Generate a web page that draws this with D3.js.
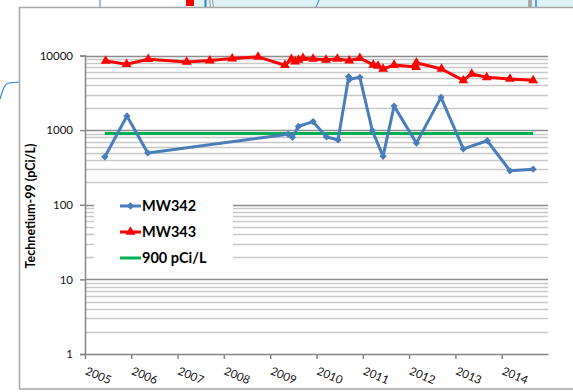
<!DOCTYPE html>
<html>
<head>
<meta charset="utf-8">
<script src="https://cdn.jsdelivr.net/npm/d3@7"></script>
<style>
  html, body { margin: 0; padding: 0; background: #fff; overflow: hidden; }
  svg { display: block; font-family: Lato, "Open Sans", sans-serif; }
</style>
</head>
<body>
<svg width="573" height="392"></svg>
<script>
// MW342 samples
const mw342Dates = ["2005-06-07", "2005-11-28", "2006-05-11", "2009-05-22", "2009-06-25",
  "2009-08-11", "2009-12-05", "2010-03-21", "2010-06-20", "2010-09-12", "2010-09-20",
  "2010-12-09", "2011-03-17", "2011-06-10", "2011-09-05", "2012-02-28", "2012-09-09",
  "2013-03-04", "2013-09-09", "2014-03-07", "2014-09-06"];
const mw342Values = [440, 1550, 495, 880, 800, 1120, 1300, 810, 740, 5200, 4800,
  5100, 990, 445, 2100, 670, 2750, 560, 720, 285, 300];

// MW343 samples
const mw343Dates = ["2005-06-13", "2005-11-25", "2006-05-15", "2007-03-14", "2007-09-12",
  "2008-03-07", "2008-09-27", "2009-04-27", "2009-06-17", "2009-07-16", "2009-08-12",
  "2009-09-17", "2009-12-05", "2010-03-17", "2010-06-14", "2010-09-16", "2010-12-09",
  "2011-03-25", "2011-05-01", "2011-06-10", "2011-09-05", "2012-02-26", "2012-02-28",
  "2012-09-13", "2013-03-04", "2013-05-09", "2013-09-05", "2014-03-07", "2014-09-06"];
const mw343Values = [8470, 7640, 8920, 8210, 8550, 9090, 9570, 7400, 8900, 8300, 8700,
  9200, 9000, 8750, 9000, 8550, 9200, 7500, 7250, 6600, 7450, 7000, 8000,
  6600, 4650, 5650, 5100, 4850, 4650];

// reference level
const refDates = ["2005-06-07", "2014-09-06"];
const refValue = 900;

const yTicks = [1, 10, 100, 1000, 10000];
const yearTicks = [2005, 2006, 2007, 2008, 2009, 2010, 2011, 2012, 2013, 2014];

const parse = d3.timeParse("%Y-%m-%d");
const toPoints = (dates, values) => dates.map((d, i) => ({ date: parse(d), value: values[i] }));

const series = [
  { name: "MW342", color: "#4a7ebb", symbol: d3.symbolDiamond2, size: 34,
    points: toPoints(mw342Dates, mw342Values) },
  { name: "MW343", color: "#ff0000", symbol: d3.symbolTriangle, size: 42,
    points: toPoints(mw343Dates, mw343Values) }
];
const refPoints = refDates.map(d => ({ date: parse(d), value: refValue }));

const svg = d3.select("svg");

// surrounding bits of the page around the chart frame
svg.append("rect").attr("x", 193).attr("y", 0).attr("width", 380).attr("height", 7).attr("fill", "#def3f6");
svg.append("rect").attr("x", 186).attr("y", 0).attr("width", 8).attr("height", 6).attr("fill", "#ff0000");
svg.append("line").attr("x1", 100).attr("x2", 100).attr("y1", 0).attr("y2", 7).attr("stroke", "#2f7fe6");
svg.append("line").attr("x1", 205.5).attr("x2", 205.5).attr("y1", 0).attr("y2", 7).attr("stroke", "#2f7fe6").attr("stroke-width", 2);
svg.append("line").attr("x1", 209.5).attr("x2", 210.5).attr("y1", 0).attr("y2", 7).attr("stroke", "#999");
svg.append("line").attr("x1", 212.5).attr("x2", 213.5).attr("y1", 0).attr("y2", 7).attr("stroke", "#999");
svg.append("line").attr("x1", 319).attr("x2", 316).attr("y1", 0).attr("y2", 7).attr("stroke", "#2f7fe6");
svg.append("rect").attr("x", 528).attr("y", 0).attr("width", 4).attr("height", 7).attr("fill", "#a8a8a8");
svg.append("line").attr("x1", 536).attr("x2", 536).attr("y1", 0).attr("y2", 7).attr("stroke", "#2f7fe6").attr("stroke-width", 1.5);
svg.append("path").attr("d", "M0,99 C3,90 4,84 9,83 L19,82")
  .attr("fill", "none").attr("stroke", "#2f7fe6").attr("stroke-width", 1.2);

// chart frame
svg.append("rect")
  .attr("x", 19.5).attr("y", 7.5).attr("width", 620).attr("height", 381.5)
  .attr("fill", "#fff").attr("stroke", "#a6a6a6").attr("stroke-width", 1.5);

const x = d3.scaleTime()
  .domain([new Date(2005, 0, 1), new Date(2015, 0, 1)])
  .range([85, 548]);

const y = d3.scaleLog()
  .domain([1, 10000])
  .range([354, 55.5]);

// gridlines: minor first, major on top
const minor = [];
for (let p = 1; p <= 1000; p *= 10) for (let k = 2; k <= 9; k++) minor.push(p * k);

svg.append("g")
  .selectAll("line")
  .data(minor)
  .join("line")
  .attr("x1", 85).attr("x2", 548)
  .attr("y1", d => Math.round(y(d)) + 0.5).attr("y2", d => Math.round(y(d)) + 0.5)
  .attr("stroke", "#c8c8c8").attr("stroke-width", 1.6);

svg.append("g")
  .selectAll("line")
  .data(yTicks.slice(1))
  .join("line")
  .attr("x1", 85).attr("x2", 548)
  .attr("y1", d => Math.round(y(d)) + 0.5).attr("y2", d => Math.round(y(d)) + 0.5)
  .attr("stroke", "#8c8c8c").attr("stroke-width", 1.6);

// y axis
const yAxis = svg.append("g")
  .attr("transform", "translate(85,0)")
  .call(d3.axisLeft(y).tickValues(yTicks).tickFormat(d3.format("d")).tickSize(5).tickPadding(7));
yAxis.select(".domain").attr("stroke", "#868686").attr("stroke-width", 1.5);
yAxis.selectAll(".tick line").attr("stroke", "#868686").attr("stroke-width", 1.5);
yAxis.selectAll(".tick text")
  .attr("font-family", "Lato, sans-serif").attr("font-size", 11.5).attr("fill", "#111");

// x axis
const xAxis = svg.append("g")
  .attr("transform", "translate(0,354)")
  .call(d3.axisBottom(x)
    .tickValues(yearTicks.map(yr => new Date(yr, 0, 1)))
    .tickFormat(d3.timeFormat("%Y"))
    .tickSize(5)
    .tickSizeOuter(0));
xAxis.select(".domain").attr("stroke", "#868686").attr("stroke-width", 1.5);
xAxis.selectAll(".tick line").attr("stroke", "#868686").attr("stroke-width", 1.5);
xAxis.selectAll(".tick text")
  .attr("font-family", "Lato, sans-serif").attr("font-size", 11.5).attr("fill", "#111")
  .attr("text-anchor", "start")
  .attr("x", 0).attr("y", 0).attr("dy", 0)
  .attr("transform", "translate(-1,20) rotate(23)");

// y axis title
svg.append("text")
  .attr("transform", "translate(35,206) rotate(-90)")
  .attr("text-anchor", "middle")
  .attr("font-family", "Lato, sans-serif").attr("font-weight", "bold").attr("font-size", 12.5)
  .attr("fill", "#000")
  .text("Technetium-99 (pCi/L)");

// lines
const line = d3.line().x(d => x(d.date)).y(d => y(d.value));

svg.append("path")
  .datum(refPoints)
  .attr("d", line)
  .attr("fill", "none").attr("stroke", "#00b050").attr("stroke-width", 3);

for (const s of series) {
  svg.append("path")
    .datum(s.points)
    .attr("d", line)
    .attr("fill", "none").attr("stroke", s.color).attr("stroke-width", 3)
    .attr("stroke-linejoin", "round");
  svg.append("g")
    .selectAll("path")
    .data(s.points)
    .join("path")
    .attr("transform", d => `translate(${x(d.date)},${y(d.value)})`)
    .attr("d", d3.symbol(s.symbol, s.size))
    .attr("fill", s.color);
}

// legend
const legend = svg.append("g");
legend.append("rect")
  .attr("x", 94).attr("y", 188).attr("width", 139).attr("height", 78).attr("fill", "#fff");

const legendItems = [
  { name: "MW342", color: "#4a7ebb", symbol: d3.symbolDiamond2, size: 34 },
  { name: "MW343", color: "#ff0000", symbol: d3.symbolTriangle, size: 42 },
  { name: "900 pCi/L", color: "#00b050", symbol: null }
];
const legendY = d3.scalePoint().domain(legendItems.map(d => d.name)).range([206, 258]);

const li = legend.selectAll("g")
  .data(legendItems)
  .join("g")
  .attr("transform", d => `translate(0,${legendY(d.name)})`);
li.append("line")
  .attr("x1", 120).attr("x2", 141)
  .attr("stroke", d => d.color).attr("stroke-width", 3);
li.filter(d => d.symbol)
  .append("path")
  .attr("transform", "translate(130.5,0)")
  .attr("d", d => d3.symbol(d.symbol, d.size)());
li.selectAll("path").attr("fill", d => d.color);
li.append("text")
  .attr("x", 142).attr("dy", "0.36em")
  .attr("font-family", "Lato, sans-serif").attr("font-weight", "bold").attr("font-size", 14.5)
  .attr("fill", "#000")
  .text(d => d.name);
</script>
</body>
</html>
